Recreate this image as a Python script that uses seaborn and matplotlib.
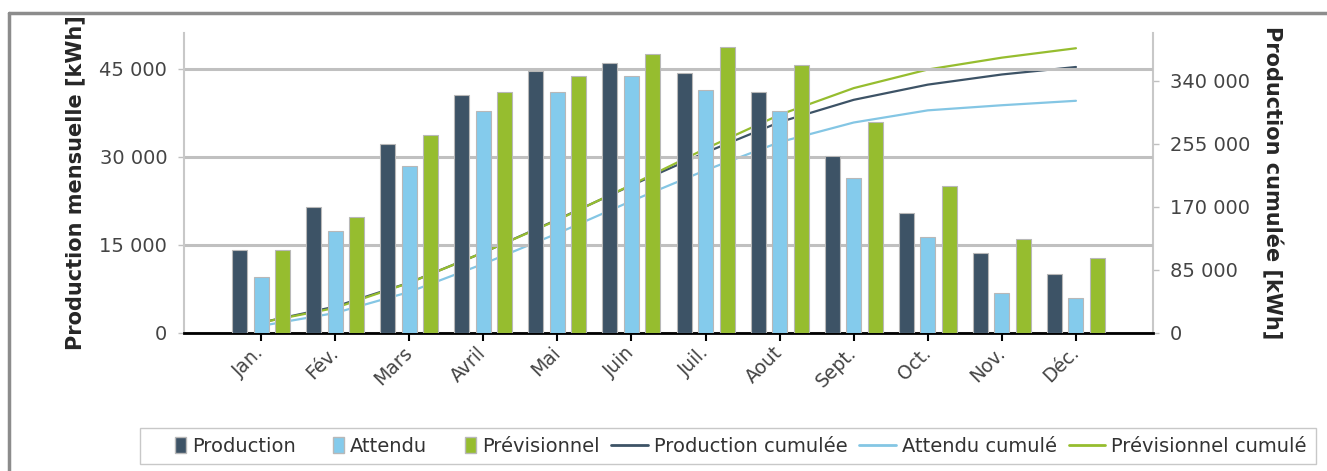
import pandas as pd
import matplotlib.pyplot as plt
import matplotlib.patches as mpatches
from matplotlib.lines import Line2D
from matplotlib.legend_handler import HandlerPatch
from matplotlib.ticker import FuncFormatter
import seaborn as sns

sns.set_style('white')
plt.rcParams['font.family'] = ['DejaVu Sans']

# Data
months = ["Jan.", "Fév.", "Mars", "Avril", "Mai", "Juin", "Juil.", "Aout",
          "Sept.", "Oct.", "Nov.", "Déc."]
production = [14150, 21400, 32300, 40600, 44700, 46100, 44300, 41100, 30100, 20500, 13700, 10100]
attendu = [9600, 17400, 28400, 37900, 41100, 43800, 41500, 37800, 26500, 16400, 6900, 6000]
previsionnel = [14150, 19700, 33800, 41100, 43800, 47500, 48800, 45600, 36000, 25100, 16000, 12700]

production_cumulee = [14100, 35600, 67900, 108500, 153100, 199200, 243500, 284500, 314600, 335100, 348800, 358900]
attendu_cumule = [9600, 27000, 55300, 93200, 134300, 178100, 219600, 257500, 284000, 300400, 307300, 313300]
previsionnel_cumule = [14100, 33800, 67600, 108600, 152400, 199900, 248700, 294400, 330400, 355500, 371500, 384200]

series = ["Production", "Attendu", "Prévisionnel"]
colors = {"Production": "#3d5366", "Attendu": "#84cbec", "Prévisionnel": "#96bd2f"}

df = pd.DataFrame({
    "Mois": months * 3,
    "Valeur": production + attendu + previsionnel,
    "Série": [s for s in series for _ in months],
})

W, H = 1327, 471
fig = plt.figure(figsize=(W / 100, H / 100), dpi=100)
ax = fig.add_axes([184 / W, 1 - 333 / H, (1153 - 184) / W, 300 / H])
ax2 = ax.twinx()

sns.barplot(data=df, x="Mois", y="Valeur", hue="Série", hue_order=series,
            palette=colors, saturation=1, width=0.87, gap=0.3, edgecolor="#b8b8b8",
            linewidth=0.8, legend=False, ax=ax, zorder=3)

x = list(range(len(months)))
sns.lineplot(x=x, y=production_cumulee, ax=ax2, color="#3d5366", lw=1.6)
sns.lineplot(x=x, y=attendu_cumule, ax=ax2, color="#84c6e4", lw=1.6)
sns.lineplot(x=x, y=previsionnel_cumule, ax=ax2, color="#96bd2f", lw=1.6)

# bars in front of the cumulative lines
ax.set_zorder(ax2.get_zorder() + 1)
ax.patch.set_visible(False)

ax.set_xlim(-1.04, 12.04)
ax.set_ylim(0, 51136)
ax2.set_ylim(0, 404760)
ax.set_yticks([0, 15000, 30000, 45000])
ax2.set_yticks([0, 85000, 170000, 255000, 340000])
fmt = FuncFormatter(lambda v, p: f"{v:,.0f}".replace(",", " "))
ax.yaxis.set_major_formatter(fmt)
ax2.yaxis.set_major_formatter(fmt)

ax.yaxis.grid(True, color="#c0c0c0", lw=2.2)
ax.set_axisbelow(True)
ax.set_xlabel("")
ax.set_ylabel("")
ax2.set_ylabel("")

for a in (ax, ax2):
    for s in a.spines.values():
        s.set_visible(False)
ax.spines["left"].set_visible(True)
ax.spines["left"].set_color("#c8c8c8")
ax.spines["left"].set_linewidth(1.5)
ax.spines["bottom"].set_visible(True)
ax.spines["bottom"].set_color("black")
ax.spines["bottom"].set_linewidth(2)
ax2.spines["right"].set_visible(True)
ax2.spines["right"].set_color("#c8c8c8")
ax2.spines["right"].set_linewidth(1.5)

ax.tick_params(axis="y", left=True, length=4, width=1, color="#c0c0c0", pad=8,
               labelsize=14, labelcolor="#444444")
ax2.tick_params(axis="y", right=True, length=4, width=1, color="#c0c0c0", pad=8,
                labelsize=14, labelcolor="#444444")
ax.tick_params(axis="x", bottom=True, length=6, width=1.5, color="black", pad=6,
               labelsize=13.5, labelcolor="#444444")
plt.setp(ax.get_xticklabels(), rotation=45, ha="right", va="center",
         rotation_mode="anchor")

fig.text(75 / W, 1 - 183 / H, "Production mensuelle [kWh]", rotation=90,
         ha="center", va="center", fontsize=15, fontweight="bold")
fig.text(1272 / W, 1 - 183 / H, "Production cumulée [kWh]", rotation=-90,
         ha="center", va="center", fontsize=15, fontweight="bold")


def square(legend, orig_handle, xdescent, ydescent, width, height, fontsize):
    w = 0.8 * height
    h = 1.2 * height
    return mpatches.Rectangle((-xdescent + width - w, -ydescent - (h - height) / 2), w, h)


handles = [mpatches.Patch(facecolor=colors[s], edgecolor="#b8b8b8", label=s) for s in series]
handles += [
    Line2D([], [], color="#3d5366", lw=2, label="Production cumulée"),
    Line2D([], [], color="#84c6e4", lw=2, label="Attendu cumulé"),
    Line2D([], [], color="#96bd2f", lw=2, label="Prévisionnel cumulé"),
]
leg = fig.legend(handles=handles, loc="center", bbox_to_anchor=(728 / W, 1 - 446 / H),
                 ncol=6, fontsize=14, frameon=True, fancybox=False, framealpha=1,
                 edgecolor="#c8c8c8", handlelength=1.9, handletextpad=0.3,
                 columnspacing=0.6, borderpad=0.45,
                 handler_map={mpatches.Patch: HandlerPatch(patch_func=square)})
for t in leg.get_texts():
    t.set_color("#333333")

# outer frame
fig.add_artist(Line2D([9 / W, 1], [1 - 13 / H, 1 - 13 / H], transform=fig.transFigure,
                      color="#8c8c8c", lw=2.5))
fig.add_artist(Line2D([9 / W, 9 / W], [0, 1 - 13 / H], transform=fig.transFigure,
                      color="#8c8c8c", lw=2.5))

fig.savefig("out.png", dpi=100)
